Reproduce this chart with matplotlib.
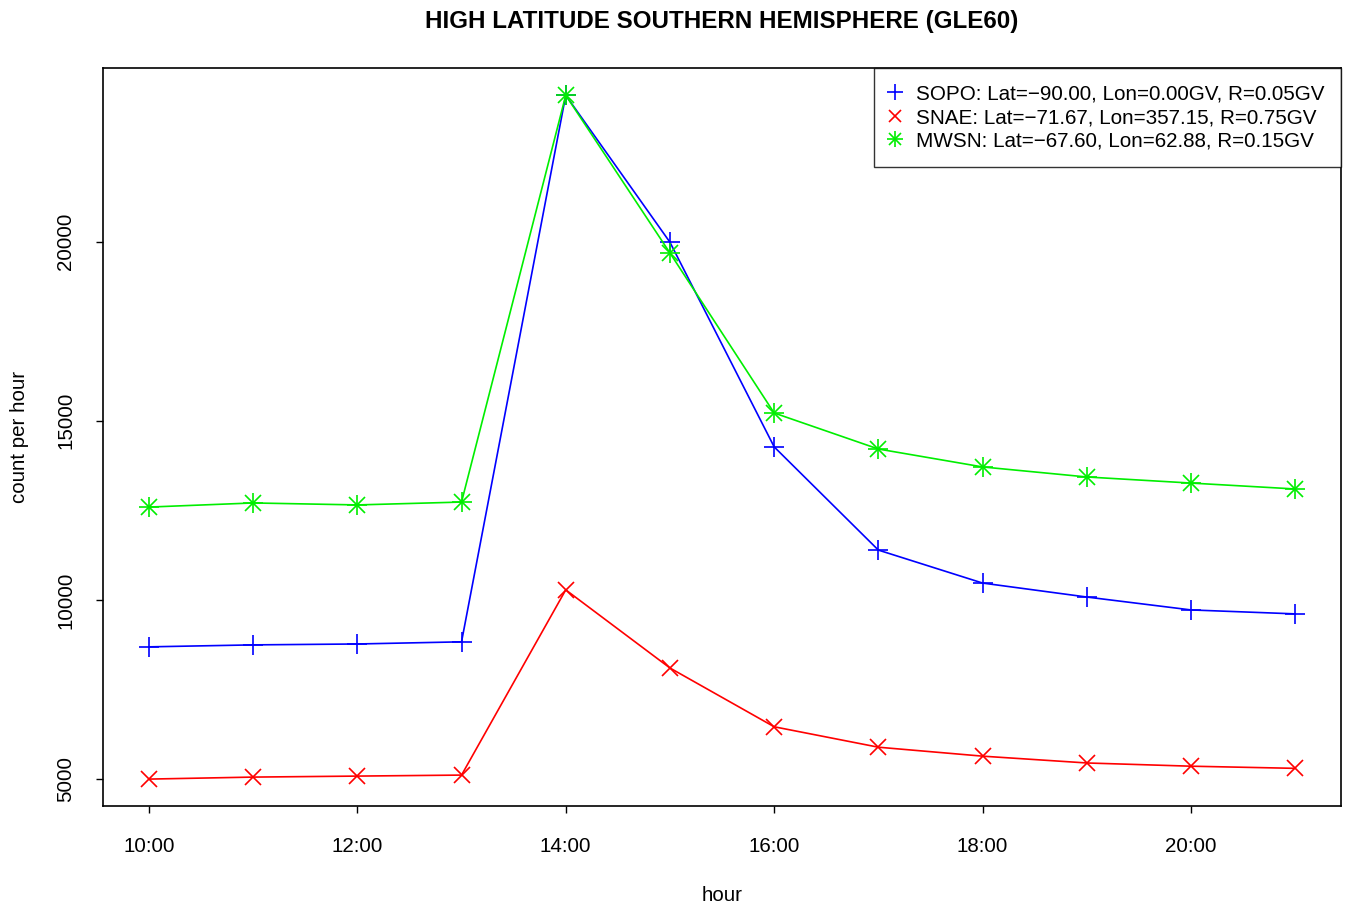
import matplotlib.pyplot as plt
from matplotlib.lines import Line2D

plt.rcParams['font.family'] = ['Liberation Sans', 'DejaVu Sans']

# hourly count data (GLE60)
hours = [10, 11, 12, 13, 14, 15, 16, 17, 18, 19, 20, 21]
sopo = [8690, 8745, 8770, 8830, 24080, 19980, 14270, 11390, 10470, 10080, 9720, 9610]
snae = [5000, 5056, 5084, 5112, 10280, 8100, 6460, 5890, 5640, 5450, 5360, 5300]
mwsn = [12590, 12705, 12650, 12730, 24080, 19680, 15215, 14210, 13710, 13430, 13260, 13095]

xtick_pos = [10, 12, 14, 16, 18, 20]
xtick_labels = ['10:00', '12:00', '14:00', '16:00', '18:00', '20:00']
ytick_pos = [5000, 10000, 15000, 20000]

labels = ['SOPO: Lat=\u221290.00, Lon=0.00GV, R=0.05GV',
          'SNAE: Lat=\u221271.67, Lon=357.15, R=0.75GV',
          'MWSN: Lat=\u221267.60, Lon=62.88, R=0.15GV']

fig = plt.figure(figsize=(13.49, 9.06), dpi=100)
ax = fig.add_axes([0.0764, 0.1104, 0.9177, 0.8145])

ax.plot(hours, sopo, color='blue', lw=1.2, marker='+', ms=15, mew=1.2)
ax.plot(hours, snae, color='red', lw=1.2, marker='x', ms=11, mew=1.2)
ax.plot(hours, mwsn, color='#00ee00', lw=1.2, marker='+', ms=15, mew=1.2)
ax.plot(hours, mwsn, color='#00ee00', lw=0, marker='x', ms=11, mew=1.2)

ax.set_xlim(9.56, 21.44)
ax.set_ylim(4250, 24840)
ax.set_xticks(xtick_pos)
ax.set_xticklabels(xtick_labels, fontsize=14.8)
ax.set_yticks(ytick_pos)
ax.set_yticklabels([str(v) for v in ytick_pos], fontsize=14.8, rotation=90, va='center')
ax.tick_params(axis='both', length=5, width=1)
ax.tick_params(axis='x', pad=17)
ax.tick_params(axis='y', pad=15)
for s in ax.spines.values():
    s.set_linewidth(1.2)

ax.set_xlabel('hour', fontsize=14.8, labelpad=22)
ax.set_ylabel('count per hour', fontsize=14.8, labelpad=20)
ax.set_title('HIGH LATITUDE SOUTHERN HEMISPHERE (GLE60)', fontsize=17.4,
             fontweight='bold', pad=29)

handles = [
    Line2D([], [], color='blue', lw=0, marker='+', ms=12, mew=1.2),
    Line2D([], [], color='red', lw=0, marker='x', ms=8, mew=1.2),
    (Line2D([], [], color='#00ee00', lw=0, marker='+', ms=12, mew=1.2),
     Line2D([], [], color='#00ee00', lw=0, marker='x', ms=9, mew=1.2)),
]
leg = ax.legend(handles, labels, loc='upper right', fontsize=14.9, frameon=True,
                fancybox=False, edgecolor='black', borderaxespad=0,
                handlelength=0.5, handletextpad=0.75, labelspacing=0.22,
                borderpad=0.8)
leg.get_frame().set_linewidth(1.0)

fig.savefig('out.png', dpi=100)
